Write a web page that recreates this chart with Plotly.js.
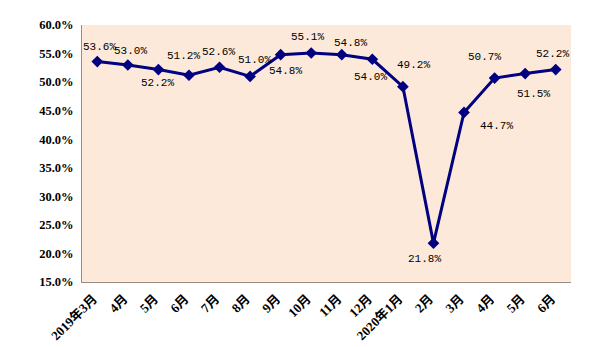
<!DOCTYPE html>
<html>
<head>
<meta charset="utf-8">
<script src="https://cdn.plot.ly/plotly-3.0.1.min.js"></script>
<style>html,body{margin:0;padding:0;background:#fff;}#chart{width:595px;height:347px;}</style>
</head>
<body>
<div id="chart"></div>
<script>
const monthLabels = ["2019年3月","4月","5月","6月","7月","8月","9月","10月","11月","12月","2020年1月","2月","3月","4月","5月","6月"];
const rateValues = [53.6, 53.0, 52.2, 51.2, 52.6, 51.0, 54.8, 55.1, 54.8, 54.0, 49.2, 21.8, 44.7, 50.7, 51.5, 52.2];
const yTickValues = [15, 20, 25, 30, 35, 40, 45, 50, 55, 60];

// label offsets in pixels (dx right, dy up)
const labelDx = [2, 3, -1, -5, -1, 4, 5, -4, 9, -2, 11, -9, 32, -10, 8, -3];
const labelDy = [15, 14, -13, 19, 15, 16, -16, 16, 12, -18, 22, -16, -14, 21, -20, 16];

const xIdx = monthLabels.map((_, i) => i);

const trace = {
  x: xIdx,
  y: rateValues,
  type: 'scatter',
  mode: 'lines+markers',
  line: {color: '#000080', width: 3},
  marker: {symbol: 'diamond', size: 9, color: '#000080'},
  hoverinfo: 'skip'
};

const annotations = rateValues.map((v, i) => ({
  x: i, y: v, xref: 'x', yref: 'y',
  text: v.toFixed(1) + '%',
  showarrow: false,
  xshift: labelDx[i], yshift: labelDy[i],
  font: {family: 'Liberation Mono, DejaVu Sans Mono, monospace', size: 11, color: '#000'}
}));

const layout = {
  width: 595, height: 347,
  margin: {l: 82, r: 24, t: 25, b: 65},
  paper_bgcolor: '#ffffff',
  plot_bgcolor: '#FDE9D9',
  showlegend: false,
  xaxis: {
    range: [-0.5, 15.5],
    tickvals: xIdx,
    ticktext: monthLabels.map(s => '<b>' + s + '</b>'),
    tickangle: -45,
    showgrid: false, zeroline: false,
    showline: true, linecolor: '#9a8c82', linewidth: 1,
    ticks: '',
    ticklabelshift: -4,
    ticklabelstandoff: 3,
    tickfont: {family: 'Liberation Serif, Noto Sans CJK SC, serif', size: 13, color: '#000'},
    fixedrange: true
  },
  yaxis: {
    range: [15, 60],
    tickvals: yTickValues,
    ticktext: yTickValues.map(v => '<b>' + v.toFixed(1) + '%</b>'),
    showgrid: false, zeroline: false,
    showline: true, linecolor: '#9a8c82', linewidth: 1,
    ticks: '',
    ticklabelstandoff: 5,
    tickfont: {family: 'Liberation Serif, serif', size: 12.5, color: '#000'},
    fixedrange: true
  },
  annotations: annotations
};

Plotly.newPlot('chart', [trace], layout, {displayModeBar: false, staticPlot: true});
</script>
</body>
</html>
